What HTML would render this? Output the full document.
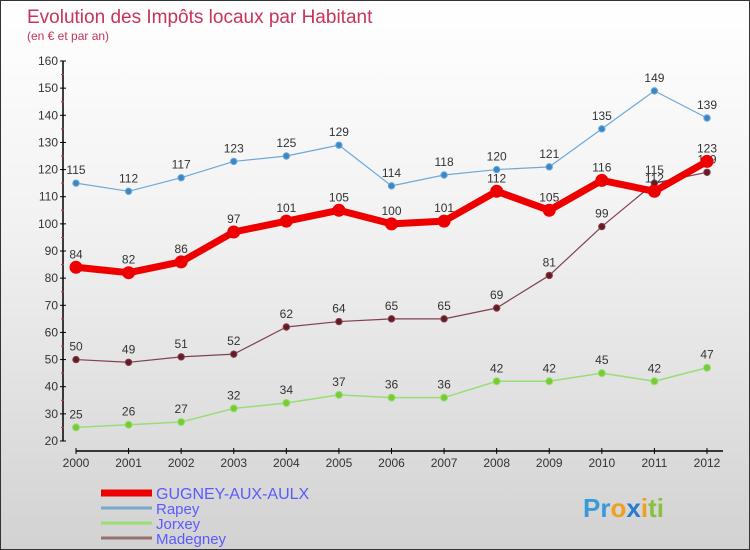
<!DOCTYPE html>
<html><head><meta charset="utf-8"><style>
body{margin:0;}
#c{width:748px;height:548px;border:1px solid #333;background:linear-gradient(#ffffff,#f2f2f2 40%,#d2d2d2);position:relative;overflow:hidden;font-family:"Liberation Sans",sans-serif;}
</style></head><body>
<div id="c">
<svg id="s" width="748" height="548" xmlns="http://www.w3.org/2000/svg">
<text x="26" y="22" font-size="19" fill="#c8335a">Evolution des Impôts locaux par Habitant</text>
<text x="26" y="39" font-size="12" fill="#c8335a">(en € et par an)</text>
</svg>
</div>
<script>
const years=[2000,2001,2002,2003,2004,2005,2006,2007,2008,2009,2010,2011,2012];
const gugney=[84,82,86,97,101,105,100,101,112,105,116,112,123];
const rapey=[115,112,117,123,125,129,114,118,120,121,135,149,139];
const jorxey=[25,26,27,32,34,37,36,36,42,42,45,42,47];
const madegney=[50,49,51,52,62,64,65,65,69,81,99,115,119];
const yTicks=[20,30,40,50,60,70,80,90,100,110,120,130,140,150,160];
const s=document.getElementById('s');const NS='http://www.w3.org/2000/svg';
const X=i=>75+i*(706-75)/12;
const Y=v=>440-(v-20)*380/140;
function mk(t,a,p){const e=document.createElementNS(NS,t);for(const k in a)e.setAttribute(k,a[k]);(p||s).appendChild(e);return e;}
let ax=mk('line',{x1:62,y1:60,x2:62,y2:440,stroke:'#000','stroke-width':1.5});


let xa=mk('line',{x1:75,y1:450,x2:722,y2:450,stroke:'#000','stroke-width':1.5});


yTicks.forEach(v=>{
 mk('line',{x1:59,y1:Y(v),x2:65,y2:Y(v),stroke:'#000'});
 if(v<160)mk('line',{x1:60,y1:Y(v+5),x2:63,y2:Y(v+5),stroke:'#e03030'});
 const t=mk('text',{x:57,y:Y(v)+4,'font-size':12,'text-anchor':'end',fill:'#333'});t.textContent=v;
 
 
});
years.forEach((yr,i)=>{
 mk('line',{x1:X(i),y1:447,x2:X(i),y2:453,stroke:'#000'});
 const t=mk('text',{x:X(i),y:466,'font-size':12,'text-anchor':'middle',fill:'#333'});t.textContent=yr;
 
 
});
function series(data,color,dot,w,r,name){
 const g=mk('g',{});
 
 
 mk('polyline',{points:data.map((v,i)=>X(i)+','+Y(v)).join(' '),fill:'none',stroke:color,'stroke-width':w,'stroke-linejoin':'round'},g);
 data.forEach((v,i)=>{
  const c=mk('circle',{cx:X(i),cy:Y(v),r:r,fill:dot,stroke:color,'stroke-width':1},g);
  
  
  const t=mk('text',{x:X(i),y:Y(v)-9,'font-size':12,'text-anchor':'middle',fill:'#333'},g);t.textContent=v;
  
  
 });
}
series(jorxey,'#99dd77','#77cc33',1.5,3.5,'jorxey-series');
series(madegney,'#804050','#661a22',1.2,3.2,'madegney-series');
series(rapey,'#6fa8d8','#3a87c8',1.2,3.2,'rapey-series');
series(gugney,'#ee0000','#ee0000',7,6,'gugney-series');
const leg=[['GUGNEY-AUX-AULX','#ee0000',7],['Rapey','#7aa8cc',3],['Jorxey','#99dd77',3],['Madegney','#997070',3]];
leg.forEach((l,i)=>{
 const y=492+i*15;
 const g=mk('g',{});
 
 
 mk('line',{x1:100,y1:y,x2:151,y2:y,stroke:l[1],'stroke-width':l[2]},g);
 const t=mk('text',{x:155,y:y+6,'font-size':l[2]>5?16:15,fill:'#5a5aff'},g);t.textContent=l[0];
});
const lg=mk('text',{x:582,y:516,'font-size':26,'font-weight':'bold',fill:'#3a9ad9'});


lg.innerHTML='Pr<tspan fill="#f0a020">o</tspan><tspan fill="#2a7ad0">x</tspan><tspan fill="#f0a020">i</tspan><tspan fill="#88c040">ti</tspan>';
</script>
</body></html>
